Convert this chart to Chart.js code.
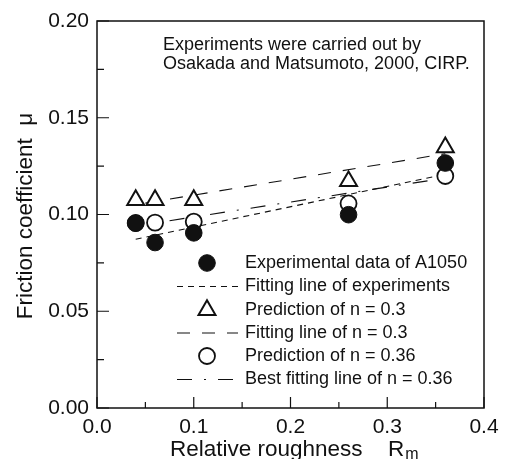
<!DOCTYPE html>
<html>
<head>
<meta charset="utf-8">
<script src="https://cdn.jsdelivr.net/npm/chart.js@4/dist/chart.umd.min.js"></script>
<style>
  body { margin: 0; background: #fff; }
  #wrap { width: 507px; height: 459px; }
</style>
</head>
<body>
<div id="wrap"><canvas id="myChart" width="507" height="459"></canvas></div>
<script>
// data
var roughness = [0.04, 0.06, 0.10, 0.26, 0.36];
var expData = [0.0955, 0.0855, 0.0905, 0.0999, 0.1266];
var pred03 = [0.1075, 0.1075, 0.1075, 0.1172, 0.1347];
var pred036 = [0.0956, 0.0958, 0.0963, 0.1057, 0.1199];

// fitted lines, end points
var fitExpX = [0.04, 0.36];
var fitExpY = [0.0872, 0.1208];
var fit03X = [0.05, 0.36];
var fit03Y = [0.1059, 0.1314];
var fit036X = [0.075, 0.36];
var fit036Y = [0.0968, 0.1188];

var xMajor = [0, 0.1, 0.2, 0.3, 0.4];
var xMinor = [0.05, 0.15, 0.25, 0.35];
var yMajor = [0, 0.05, 0.10, 0.15, 0.20];
var yMinor = [0.025, 0.075, 0.125, 0.175];

var legendLabels = [
  'Experimental data of A1050',
  'Fitting line of experiments',
  'Prediction of n = 0.3',
  'Fitting line of n = 0.3',
  'Prediction of n = 0.36',
  'Best fitting line of n = 0.36'
];
var noteLines = ['Experiments were carried out by', 'Osakada and Matsumoto, 2000, CIRP.'];

var FONT = '"Liberation Sans", Arial, Helvetica, sans-serif';
var INK = '#111';

function pts(xs, ys) {
  return xs.map(function (x, i) { return { x: x, y: ys[i] }; });
}

// legend + frame + ticks + titles, drawn by hand
var decor = {
  id: 'decor',
  afterDraw: function (chart) {
    var ctx = chart.ctx;
    var a = chart.chartArea;
    var xs = chart.scales.x, ys = chart.scales.y;
    ctx.save();
    ctx.strokeStyle = INK;
    ctx.fillStyle = INK;
    ctx.setLineDash([]);

    // frame
    ctx.lineWidth = 1.5;
    ctx.strokeRect(a.left, a.top, a.right - a.left, a.bottom - a.top);

    // inward ticks
    ctx.lineWidth = 1.2;
    ctx.beginPath();
    xMajor.forEach(function (v) { var p = xs.getPixelForValue(v); ctx.moveTo(p, a.bottom); ctx.lineTo(p, a.bottom - 11); });
    xMinor.forEach(function (v) { var p = xs.getPixelForValue(v); ctx.moveTo(p, a.bottom); ctx.lineTo(p, a.bottom - 6); });
    yMajor.forEach(function (v) { var p = ys.getPixelForValue(v); ctx.moveTo(a.left, p); ctx.lineTo(a.left + 12, p); });
    yMinor.forEach(function (v) { var p = ys.getPixelForValue(v); ctx.moveTo(a.left, p); ctx.lineTo(a.left + 7, p); });
    ctx.stroke();

    // note
    ctx.font = '18px ' + FONT;
    ctx.textAlign = 'left';
    ctx.textBaseline = 'alphabetic';
    ctx.fillText(noteLines[0], 163, 50);
    ctx.fillText(noteLines[1], 163, 68.5);

    // x title with subscript
    ctx.font = '22.5px ' + FONT;
    var t1 = 'Relative roughness';
    ctx.fillText(t1, 170, 456);
    var rx = 388;
    ctx.fillText('R', rx, 456);
    var rw = ctx.measureText('R').width;
    ctx.font = '16px ' + FONT;
    ctx.fillText('m', rx + rw + 1, 459);

    // y title
    ctx.save();
    ctx.font = '22.5px ' + FONT;
    ctx.translate(32, 216);
    ctx.rotate(-Math.PI / 2);
    ctx.textAlign = 'center';
    ctx.fillText('Friction coefficient  \u03bc', 0, 0);
    ctx.restore();

    // legend
    var rows = [263, 286.5, 310, 333, 356, 379.5];
    var order = [0, 3, 1, 4, 2, 5];
    ctx.font = '18px ' + FONT;
    ctx.textBaseline = 'middle';
    order.forEach(function (di, r) {
      var ds = chart.data.datasets[di];
      var y = rows[r];
      if (ds.showLine) {
        ctx.lineWidth = ds.borderWidth;
        ctx.setLineDash(ds.borderDash || []);
        ctx.beginPath();
        ctx.moveTo(177, y);
        ctx.lineTo(238, y);
        ctx.stroke();
        ctx.setLineDash([]);
      } else {
        var rad = ds.pointRadius;
        ctx.lineWidth = ds.pointBorderWidth;
        ctx.beginPath();
        if (ds.pointStyle === 'triangle') {
          ctx.moveTo(207, y - rad);
          ctx.lineTo(207 + rad * Math.sin(2 * Math.PI / 3), y + rad / 2);
          ctx.lineTo(207 - rad * Math.sin(2 * Math.PI / 3), y + rad / 2);
          ctx.closePath();
        } else {
          ctx.arc(207, y, rad, 0, Math.PI * 2);
        }
        ctx.fillStyle = ds.pointBackgroundColor;
        ctx.fill();
        ctx.stroke();
        ctx.fillStyle = INK;
      }
      ctx.fillText(ds.label, 245, y);
    });
    ctx.restore();
  }
};

var config = {
  type: 'scatter',
  data: {
    datasets: [
      { label: legendLabels[0], data: pts(roughness, expData), pointStyle: 'circle', pointRadius: 8.3,
        pointBackgroundColor: INK, pointBorderColor: INK, pointBorderWidth: 1, order: 0 },
      { label: legendLabels[2], data: pts(roughness, pred03), pointStyle: 'triangle', pointRadius: 9.8,
        pointBackgroundColor: '#fff', pointBorderColor: INK, pointBorderWidth: 2, order: 2 },
      { label: legendLabels[4], data: pts(roughness, pred036), pointStyle: 'circle', pointRadius: 8,
        pointBackgroundColor: '#fff', pointBorderColor: INK, pointBorderWidth: 1.8, order: 1 },
      { label: legendLabels[1], data: pts(fitExpX, fitExpY), showLine: true, pointRadius: 0,
        borderColor: INK, borderWidth: 1.1, borderDash: [6, 5], order: 3 },
      { label: legendLabels[3], data: pts(fit03X, fit03Y), showLine: true, pointRadius: 0,
        borderColor: INK, borderWidth: 1.1, borderDash: [13, 12], order: 3 },
      { label: legendLabels[5], data: pts(fit036X, fit036Y), showLine: true, pointRadius: 0,
        borderColor: INK, borderWidth: 1.1, borderDash: [15, 12, 2, 12], order: 3 }
    ]
  },
  options: {
    responsive: false,
    animation: false,
    layout: { padding: { top: 21, right: 23, left: 0, bottom: 0 } },
    plugins: { legend: { display: false }, tooltip: { enabled: false } },
    scales: {
      x: {
        type: 'linear', min: 0, max: 0.4,
        afterBuildTicks: function (s) { s.ticks = xMajor.map(function (v) { return { value: v }; }); },
        afterFit: function (s) { s.height = 51; },
        grid: { display: false, drawTicks: false },
        border: { display: false },
        ticks: { color: INK, padding: 7, maxRotation: 0, autoSkip: false,
          font: { size: 21, family: FONT }, callback: function (v) { return v.toFixed(1); } }
      },
      y: {
        type: 'linear', min: 0, max: 0.2,
        afterBuildTicks: function (s) { s.ticks = yMajor.map(function (v) { return { value: v }; }); },
        afterFit: function (s) { s.width = 97; },
        grid: { display: false, drawTicks: false },
        border: { display: false },
        ticks: { color: INK, padding: 8, autoSkip: false,
          font: { size: 21, family: FONT }, callback: function (v) { return v.toFixed(2); } }
      }
    }
  },
  plugins: [decor]
};

var myChart = new Chart(document.getElementById('myChart'), config);
</script>
</body>
</html>
